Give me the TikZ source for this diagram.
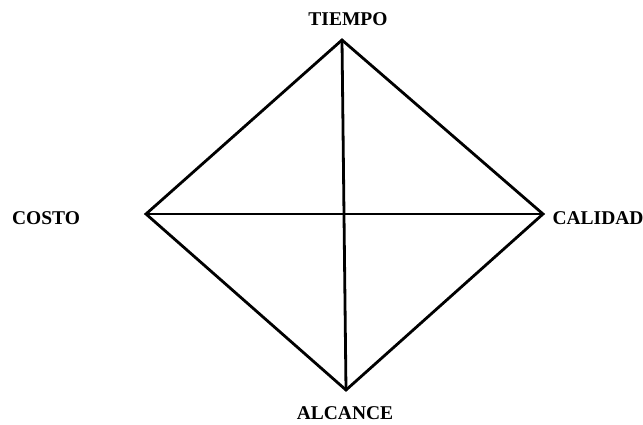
\documentclass[tikz,border=0pt]{standalone}
\usepackage{fontspec}
\setmainfont{Liberation Serif}
\begin{document}
\begin{tikzpicture}[x=1pt,y=-1pt,
  lbl/.style={font=\fontsize{19.5}{21}\selectfont\bfseries, inner sep=0pt},
  edge/.style={line width=2.8pt, line cap=round, line join=miter}]
\useasboundingbox (0,0) rectangle (643,425);
\coordinate (T) at (342,40);
\coordinate (L) at (146,214);
\coordinate (R) at (543,214);
\coordinate (B) at (346,390);
\draw[edge] (T) -- (R) -- (B) -- (L) -- cycle;
\draw[edge] (T) -- (B);
\draw[edge] (L) -- (R);
\node[lbl] (tiempo) at (348,19) {TIEMPO};
\node[lbl] (costo) at (46,218) {COSTO};
\node[lbl] (calidad) at (598,218) {CALIDAD};
\node[lbl] (alcance) at (345,413.5) {ALCANCE};
\end{tikzpicture}
\end{document}
